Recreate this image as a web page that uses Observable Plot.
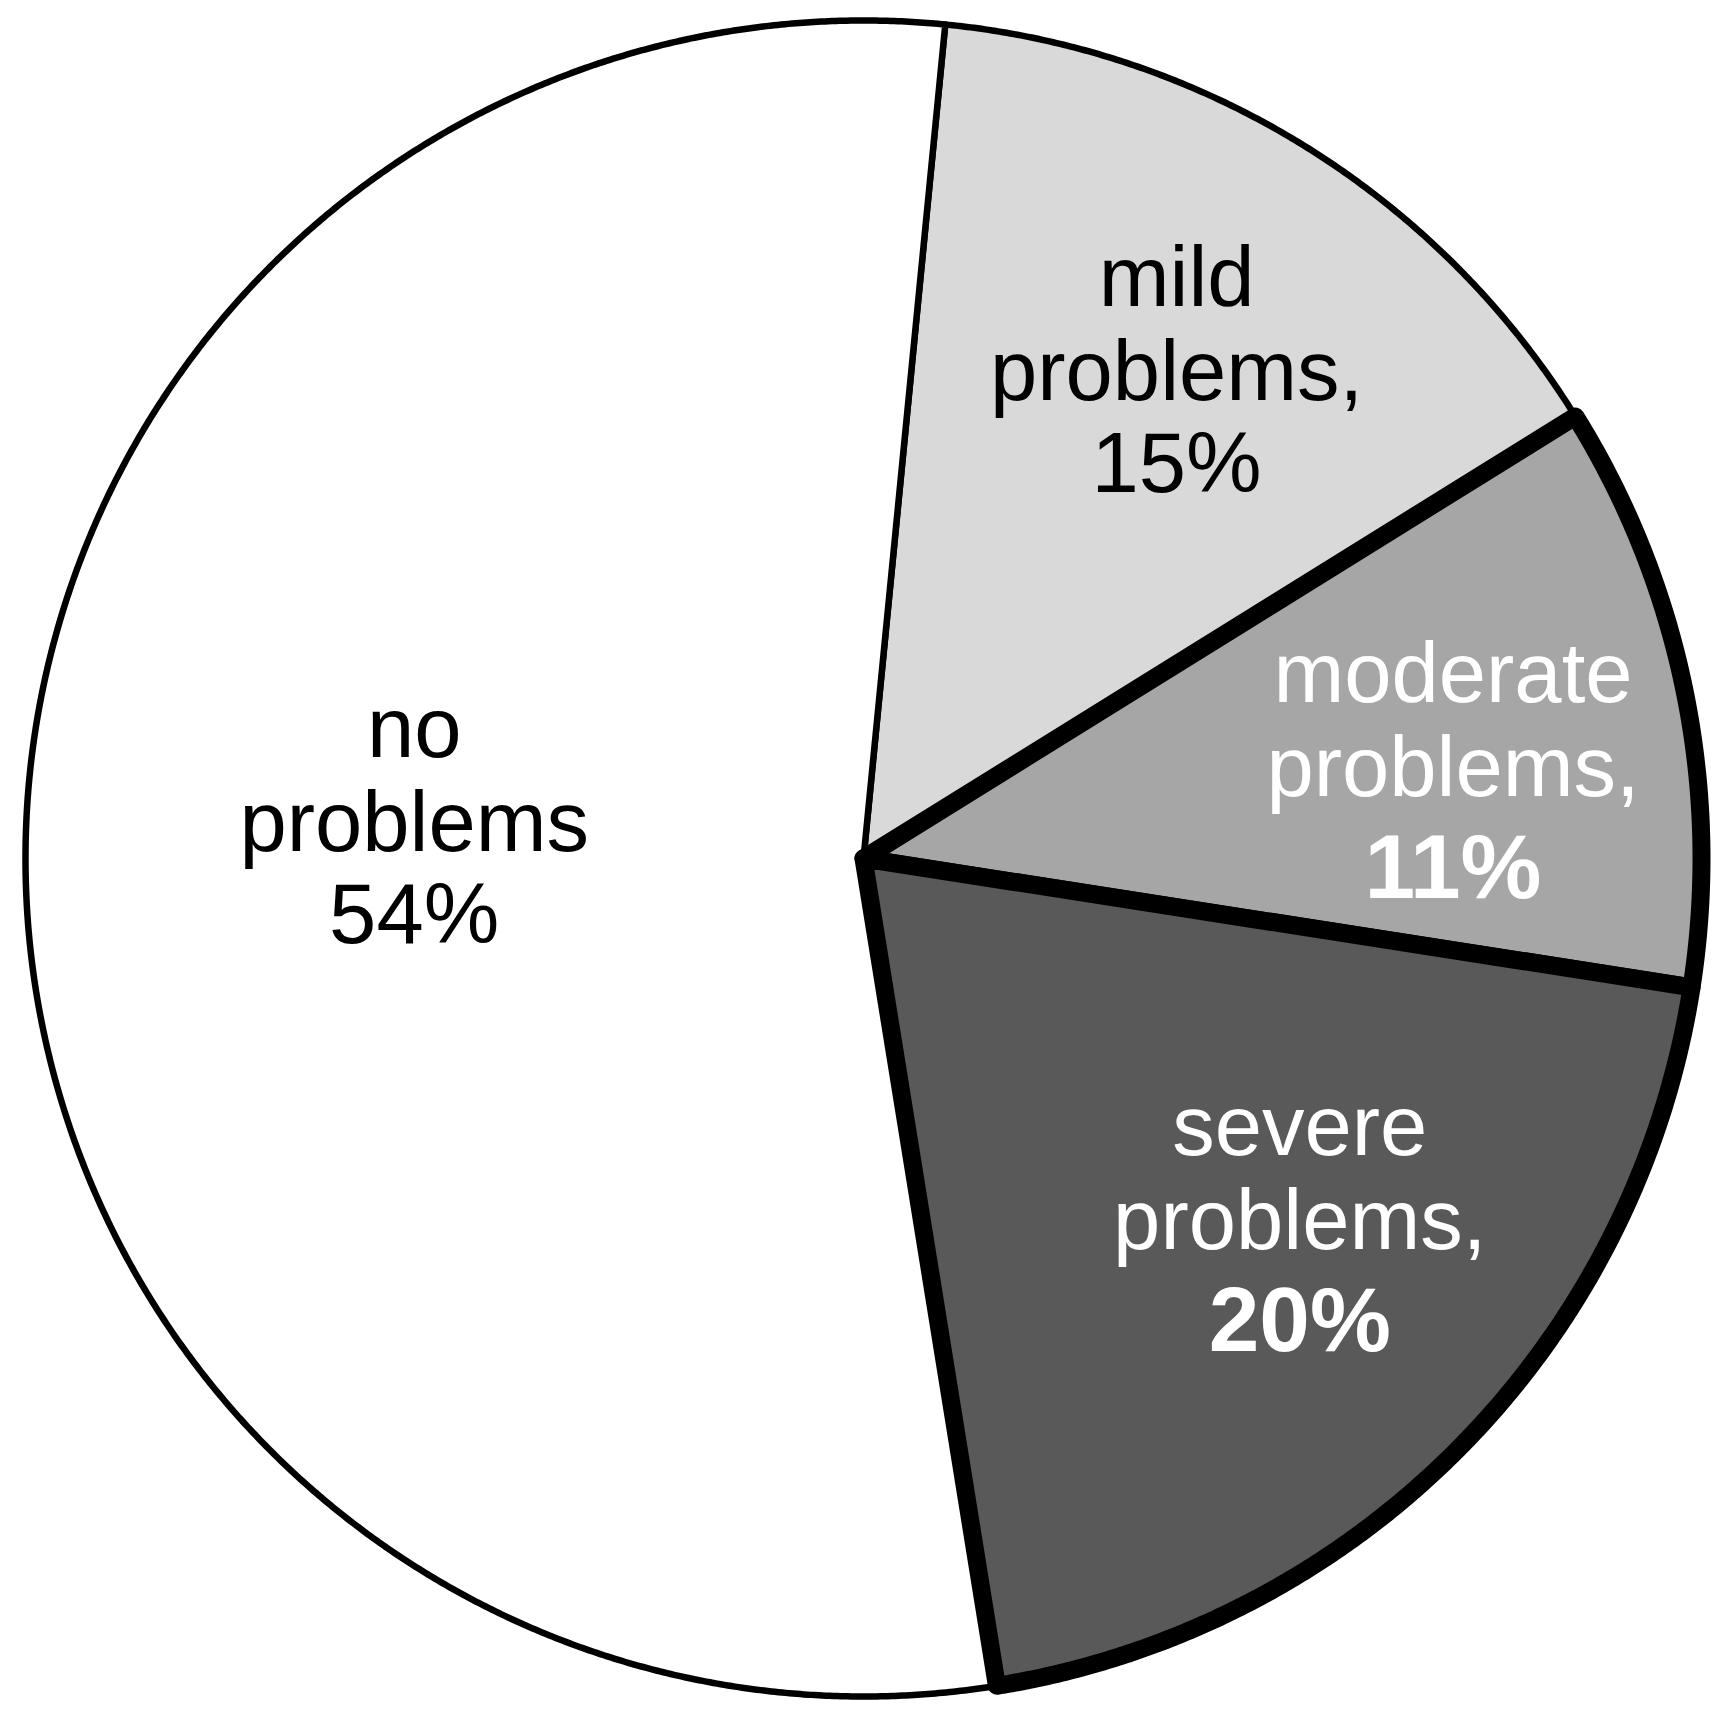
<!DOCTYPE html>
<html>
<head>
<meta charset="utf-8">
<script src="https://cdn.jsdelivr.net/npm/d3@7"></script>
<script src="https://cdn.jsdelivr.net/npm/@observablehq/plot@0.6"></script>
<style>
  html, body { margin: 0; padding: 0; background: #ffffff; }
  #chart svg { display: block; }
</style>
</head>
<body>
<div id="chart"></div>
<script>
// Data, in clockwise order starting near 12 o'clock (shares)
const categories = ["mild problems", "moderate problems", "severe problems", "no problems"];
const values = [14.6, 11.3, 20.0, 54.1];
const labelNames = ["mild\nproblems,", "moderate\nproblems,", "severe\nproblems,", "no\nproblems"];

// Styles / layout (kept apart from data)
const sliceColors = ["#d9d9d9", "#a6a6a6", "#595959", "#ffffff"];
const thickOutline = ["moderate problems", "severe problems"];
const whiteText = ["moderate problems", "severe problems"];
const boldPercent = ["moderate problems", "severe problems"];
const labelRadius = [0.692, 0.712, 0.675, 0.538];   // fraction of pie radius
const labelTurn = [0.8, 2.6, -5.3, 6.5];             // degrees from slice mid-angle

const W = 1729, H = 1717;
const startAngle = 5.6; // degrees clockwise from north
const total = d3.sum(values);

let acc = startAngle;
const slices = categories.map((c, i) => {
  const a0 = acc;
  const a1 = acc + values[i] / total * 360;
  acc = a1;
  return {cat: c, value: values[i], name: labelNames[i], a0, a1, i};
});

const rad = Math.PI / 180;
const points = [];
for (const s of slices) {
  points.push({cat: s.cat, x: 0, y: 0});
  const n = Math.max(2, Math.ceil((s.a1 - s.a0) / 0.25));
  for (let k = 0; k <= n; k++) {
    const a = (s.a0 + (s.a1 - s.a0) * k / n) * rad;
    points.push({cat: s.cat, x: Math.sin(a), y: Math.cos(a)});
  }
}

const labels = slices.map(s => {
  const mid = ((s.a0 + s.a1) / 2 + labelTurn[s.i]) * rad;
  const r = labelRadius[s.i];
  return {cat: s.cat, name: s.name, pct: Math.round(s.value) + "%", x: r * Math.sin(mid), y: r * Math.cos(mid)};
});

const font = "'Liberation Sans', Arial, Helvetica, sans-serif";
const FS = 85, LH = 1.106, step = FS * LH;
const FSB = 91; // bold percentage size

const isThick = d => thickOutline.includes(d.cat);
const isWhite = d => whiteText.includes(d.cat);
const isBold = d => boldPercent.includes(d.cat);

const chart = Plot.plot({
  width: W,
  height: H,
  marginLeft: 25,
  marginRight: 28,
  marginTop: 20,
  marginBottom: 21,
  x: {domain: [-1, 1], axis: null},
  y: {domain: [-1, 1], axis: null},
  color: {type: "ordinal", domain: categories, range: sliceColors},
  style: {background: "#ffffff", fontFamily: font},
  marks: [
    Plot.line(points.filter(d => !isThick(d)), {
      x: "x", y: "y", z: "cat", fill: "cat", stroke: "black",
      strokeWidth: 6.5, curve: "linear-closed", strokeLinejoin: "round"
    }),
    Plot.line(points.filter(d => isThick(d)), {
      x: "x", y: "y", z: "cat", fill: "cat", stroke: "black",
      strokeWidth: 18, curve: "linear-closed", strokeLinejoin: "round"
    }),
    // name lines
    Plot.text(labels.filter(d => !isWhite(d)), {
      x: "x", y: "y", text: "name", fill: "black", fontSize: FS, lineHeight: LH,
      lineAnchor: "middle", dy: -step / 2, fontFamily: font
    }),
    Plot.text(labels.filter(d => isWhite(d)), {
      x: "x", y: "y", text: "name", fill: "white", fontSize: FS, lineHeight: LH,
      lineAnchor: "middle", dy: -step / 2, fontFamily: font
    }),
    // percentage lines
    Plot.text(labels.filter(d => !isBold(d)), {
      x: "x", y: "y", text: "pct", fill: "black",
      fontSize: FS, lineAnchor: "middle", dy: step, fontFamily: font
    }),
    Plot.text(labels.filter(d => isBold(d)), {
      x: "x", y: "y", text: "pct", fill: "white",
      fontSize: FSB, fontWeight: "bold", lineAnchor: "middle",
      dy: 0.32 * FS + 105 - 0.32 * FSB, fontFamily: font
    })
  ]
});

document.getElementById("chart").appendChild(chart);
</script>
</body>
</html>
